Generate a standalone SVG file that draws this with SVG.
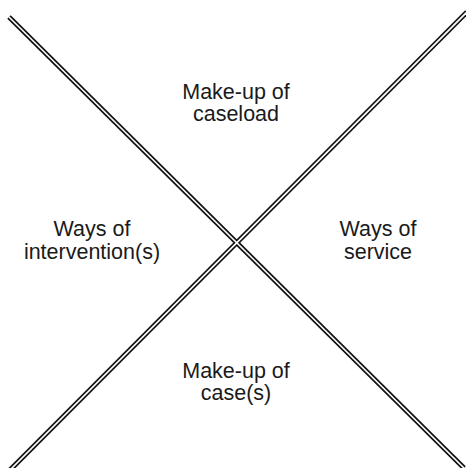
<svg xmlns="http://www.w3.org/2000/svg" width="466" height="468" viewBox="0 0 466 468">
<style>
.outer{stroke:#111;stroke-width:5;fill:none}
.inner{stroke:#fff;stroke-width:1.6;fill:none}
.lbl{font-family:"Liberation Sans",Arial,sans-serif;font-size:21.5px;fill:#1a1a1a;text-anchor:middle}
</style>
<rect width="466" height="468" fill="#fff"/>
<g id="connectors">
<line class="outer" x1="9" y1="17" x2="464" y2="468"/>
<line class="outer" x1="467" y1="12" x2="10" y2="470"/>
<line class="inner" x1="9" y1="17" x2="464" y2="468"/>
<line class="inner" x1="467" y1="12" x2="10" y2="470"/>
</g>
<g id="top">
<text class="lbl" x="236" y="99">Make-up of</text>
<text class="lbl" x="236" y="121">caseload</text>
</g>
<g id="left">
<text class="lbl" x="92" y="236">Ways of</text>
<text class="lbl" x="92" y="259">intervention(s)</text>
</g>
<g id="right">
<text class="lbl" x="378" y="236">Ways of</text>
<text class="lbl" x="378" y="259">service</text>
</g>
<g id="bottom">
<text class="lbl" x="236" y="378">Make-up of</text>
<text class="lbl" x="236" y="400">case(s)</text>
</g>
</svg>
